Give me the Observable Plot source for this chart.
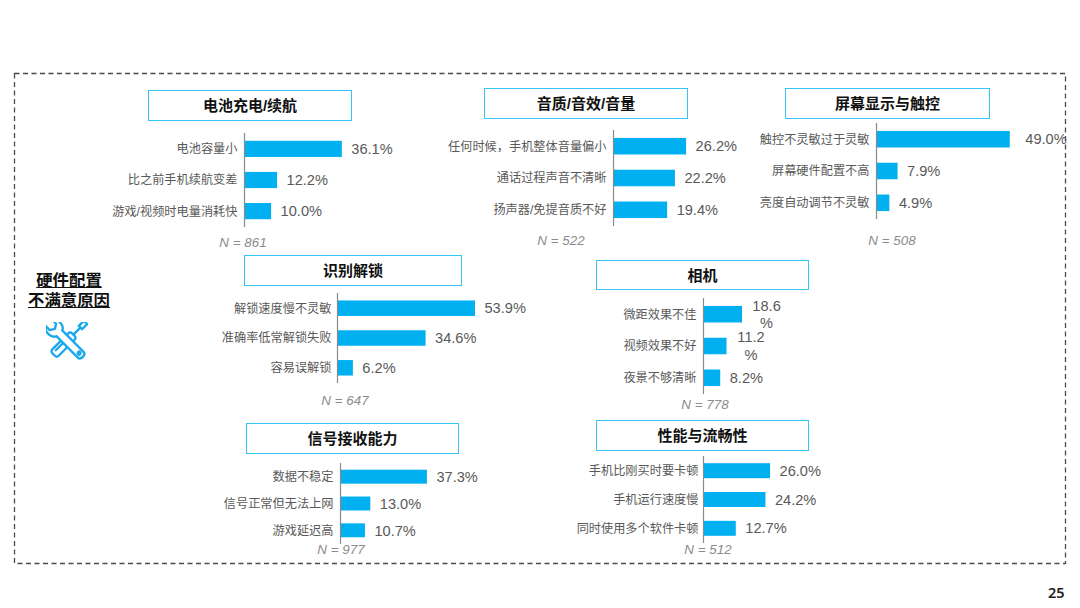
<!DOCTYPE html>
<html><head><meta charset="utf-8">
<script src="https://cdn.jsdelivr.net/npm/d3@7"></script>
<script src="https://cdn.jsdelivr.net/npm/@observablehq/plot@0.6"></script>
<style>
html,body{margin:0;padding:0;background:#fff;width:1080px;height:608px;overflow:hidden}
body{position:relative;font-family:"Liberation Sans","Noto Sans CJK SC",sans-serif}
.box{position:absolute;box-sizing:border-box;border:1.5px solid #33c3f7;display:flex;align-items:center;justify-content:center;font-size:15px;font-weight:700;color:#111;background:#fff;padding-bottom:2px}
.n{position:absolute;font-size:13.4px;font-style:italic;color:#8c8c8c;transform:translateX(-50%);white-space:nowrap;line-height:16px}
.head{position:absolute;left:19px;width:100px;text-align:center;font-size:16.4px;font-weight:700;color:#111;text-decoration:underline;line-height:19.5px}
.page{position:absolute;left:1048px;top:582px;font-family:"Noto Sans",sans-serif;font-size:14.5px;font-weight:600;color:#222}
.p{position:absolute}
.p svg{overflow:visible;background:transparent;display:block;max-width:none}
</style></head><body>
<svg style="position:absolute;left:0;top:0" width="1080" height="608"><rect x="14.5" y="73.5" width="1051" height="490" fill="none" stroke="#4a4a4a" stroke-width="1.3" stroke-dasharray="5 3.5"/></svg>
<div class="head" style="top:271px">硬件配置<br>不满意原因</div>
<svg style="position:absolute;left:46px;top:322px" width="42" height="38" viewBox="0 0 46 42" fill="#fff" stroke="#1aa9ec" stroke-width="2.6" stroke-linejoin="round" stroke-linecap="round">
  <g transform="translate(23,21) rotate(45)">
    <rect x="-2.6" y="-29" width="5.2" height="8"/>
    <line x1="0" y1="-21" x2="0" y2="-10"/>
    <rect x="-5" y="-10" width="10" height="31" rx="3"/>
    <line x1="-1.5" y1="2" x2="-1.5" y2="16"/>
  </g>
  <g transform="translate(23,21) rotate(-45)">
    <path d="M-4.5,-12 C-10,-14 -11,-24 -5,-29 L-5,-22 L0,-19 L5,-22 L5,-29 C11,-24 10,-14 4.5,-12 L4.5,21 C4.5,26 -4.5,26 -4.5,21 Z"/>
    <circle cx="0" cy="19" r="1.6"/>
  </g>
</svg>
<div class="page">25</div>
<script>
const batteryCategories = ["电池容量小", "比之前手机续航变差", "游戏/视频时电量消耗快"];
const batteryValues = [36.1, 12.2, 10.0];
const audioCategories = ["任何时候，手机整体音量偏小", "通话过程声音不清晰", "扬声器/免提音质不好"];
const audioValues = [26.2, 22.2, 19.4];
const screenCategories = ["触控不灵敏过于灵敏", "屏幕硬件配置不高", "亮度自动调节不灵敏"];
const screenValues = [49.0, 7.9, 4.9];
const unlockCategories = ["解锁速度慢不灵敏", "准确率低常解锁失败", "容易误解锁"];
const unlockValues = [53.9, 34.6, 6.2];
const cameraCategories = ["微距效果不佳", "视频效果不好", "夜景不够清晰"];
const cameraValues = [18.6, 11.2, 8.2];
const signalCategories = ["数据不稳定", "信号正常但无法上网", "游戏延迟高"];
const signalValues = [37.3, 13.0, 10.7];
const perfCategories = ["手机比刚买时要卡顿", "手机运行速度慢", "同时使用多个软件卡顿"];
const perfValues = [26.0, 24.2, 12.7];

const panels = [
  {title:"电池充电/续航", cats:batteryCategories, vals:batteryValues, n:"N = 861"},
  {title:"音质/音效/音量", cats:audioCategories, vals:audioValues, n:"N = 522"},
  {title:"屏幕显示与触控", cats:screenCategories, vals:screenValues, n:"N = 508"},
  {title:"识别解锁", cats:unlockCategories, vals:unlockValues, n:"N = 647"},
  {title:"相机", cats:cameraCategories, vals:cameraValues, n:"N = 778", wrap:[true,true,false]},
  {title:"信号接收能力", cats:signalCategories, vals:signalValues, n:"N = 977"},
  {title:"性能与流畅性", cats:perfCategories, vals:perfValues, n:"N = 512"}
];
// layout only: axis x, top/bottom of the axis, px per percent, title box, N label position, label gaps
const layouts = [
  {ax:244, top:133, bot:227, k:2.71, box:[148,90,204,31], nx:243, ny:235, gap:-7},
  {ax:613, top:130, bot:226, k:2.79, box:[484,88,204,31], nx:561, ny:233, gap:-7},
  {ax:876, top:123, bot:219, k:2.73, box:[785,88,205,31], nx:892, ny:233, gap:-7, vgap:[15,9,9]},
  {ax:337, top:293, bot:383, k:2.56, box:[244,255,218,31], nx:345, ny:393, gap:-6},
  {ax:703, top:298, bot:394, k:2.10, box:[596,260,213,30], nx:705, ny:397, gap:-7},
  {ax:340, top:463, bot:544, k:2.33, box:[246,423,213,31], nx:341, ny:542, gap:-7},
  {ax:703, top:456, bot:543, k:2.58, box:[596,420,213,31], nx:708, ny:542, gap:-5}
];
const marginL = 240, marginR = 120;

panels.forEach((p, i) => {
  const L = layouts[i];
  const rows = p.cats.map((c, j) => ({c, v:p.vals[j], wrap:p.wrap && p.wrap[j], g:L.vgap ? L.vgap[j] : 9}));
  const fmt = d => d.v.toFixed(1) + "%";
  const plotW = L.k * 100;
  const flat = rows.filter(d => !d.wrap);
  // one text mark per distinct gap, since dx is a constant option
  const valueMarks = d3.groups(flat, d => d.g).map(([g, rs]) =>
    Plot.text(rs, {x:"v", y:"c", text:fmt, textAnchor:"start", dx:g, fontSize:14.6, fill:"#595959"}));
  const chart = Plot.plot({
    width: marginL + plotW + marginR,
    height: L.bot - L.top,
    marginLeft: marginL, marginRight: marginR, marginTop: 0, marginBottom: 0,
    style: {fontFamily:'"Liberation Sans","Noto Sans CJK SC",sans-serif', background:"transparent", overflow:"visible", maxWidth:"none"},
    x: {domain:[0,100], axis:null},
    y: {domain:p.cats, axis:null, paddingInner:0.48, paddingOuter:0.25, round:false},
    marks: [
      Plot.barX(rows, {x:"v", y:"c", fill:"#00b0f0", inset:0}),
      Plot.ruleX([0], {stroke:"#8a8a8a", strokeWidth:1.2}),
      Plot.text(rows, {x:0, y:"c", text:"c", textAnchor:"end", dx:L.gap, fontSize:12.2, fill:"#595959"}),
      ...valueMarks,
      Plot.text(rows.filter(d => d.wrap), {x:"v", y:"c", text:d => d.v.toFixed(1) + "\n%", textAnchor:"middle", dx:24, dy:-1, lineHeight:1.2, fontSize:14.6, fill:"#595959"})
    ]
  });
  const wrap = document.createElement("div");
  wrap.className = "p";
  wrap.style.left = (L.ax - marginL) + "px";
  wrap.style.top = L.top + "px";
  wrap.appendChild(chart);
  document.body.appendChild(wrap);

  const b = document.createElement("div");
  b.className = "box";
  b.textContent = p.title;
  b.style.cssText = `left:${L.box[0]}px;top:${L.box[1]}px;width:${L.box[2]}px;height:${L.box[3]}px`;
  document.body.appendChild(b);

  const n = document.createElement("div");
  n.className = "n";
  n.textContent = p.n;
  n.style.left = L.nx + "px";
  n.style.top = L.ny + "px";
  document.body.appendChild(n);
});
</script>
</body></html>
